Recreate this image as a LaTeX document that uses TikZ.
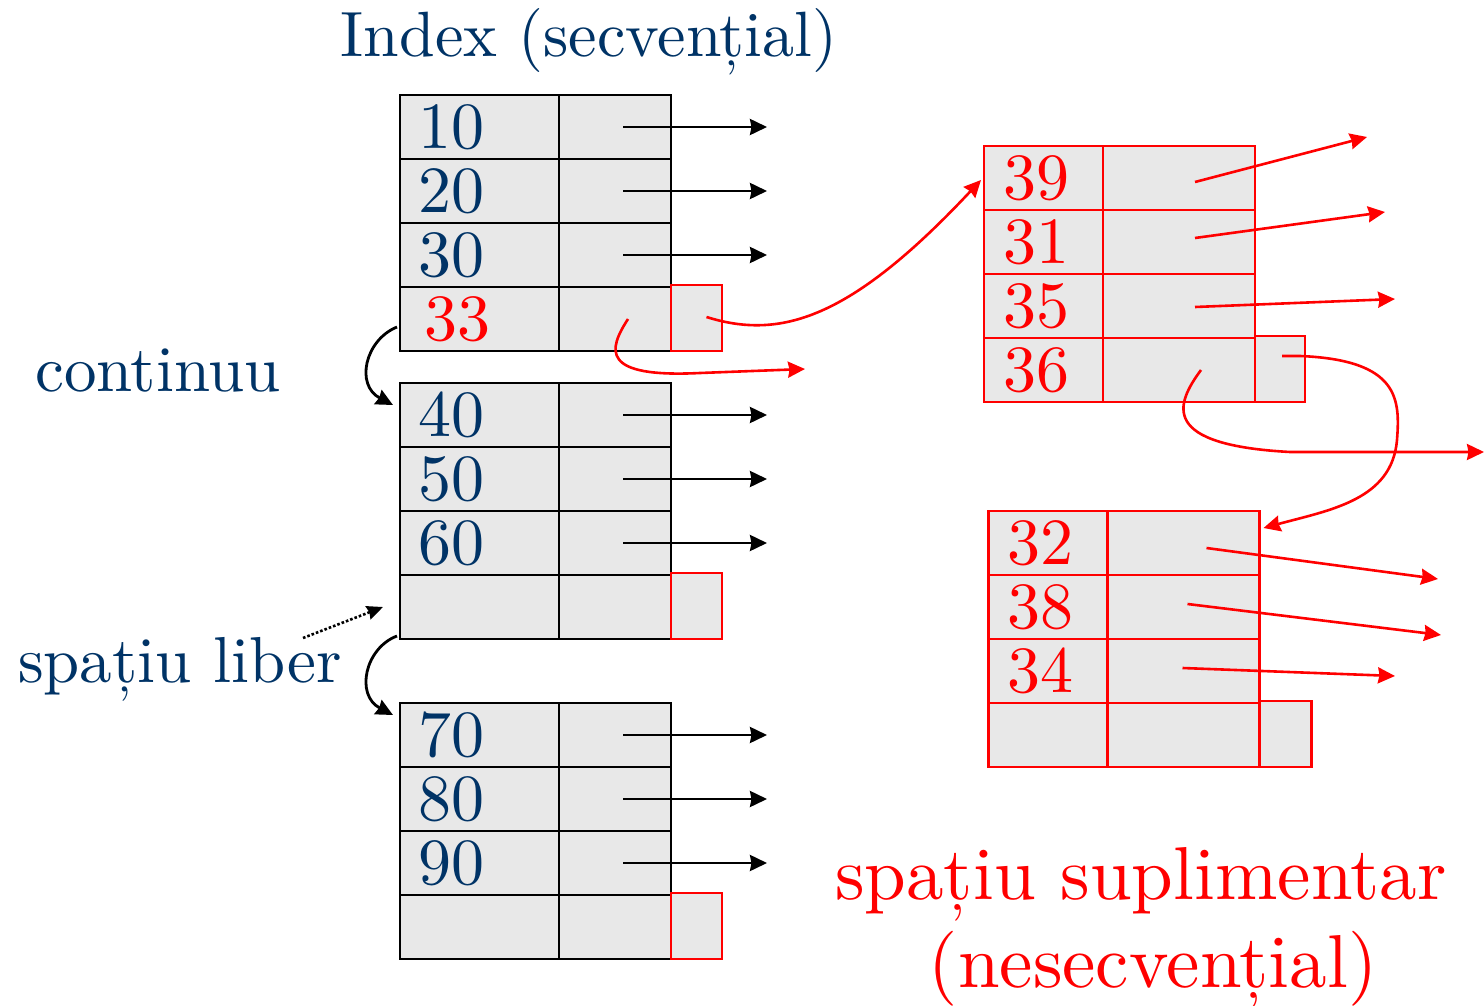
\documentclass[tikz,border=0pt]{standalone}
\usepackage{fontspec}
\setmainfont{lmroman10-regular.otf}
\usetikzlibrary{%
	positioning,
	arrows.meta
}
\definecolor{idxblue}{RGB}{0,51,102}
\definecolor{cellgray}{RGB}{232,232,232}
\newcommand{\keyfont}{\fontsize{66}{70}\selectfont}
\newcommand{\lblfont}{\fontsize{65}{70}\selectfont}
\newcommand{\bigfont}{\fontsize{75}{88}\selectfont}

\begin{document}
\begin{tikzpicture}[x=1pt,y=-1pt,
		KCell/.style={draw,fill=cellgray,line width=2.4pt,minimum height=64pt,text width=123pt,inner xsep=18pt,inner ysep=0pt,outer sep=0pt,align=left,font=\keyfont,text=idxblue},
		PCell/.style={draw,fill=cellgray,line width=2.4pt,minimum width=112pt,minimum height=64pt,inner sep=0pt,outer sep=0pt},
		OCell/.style={draw=red,fill=cellgray,line width=2.2pt,minimum width=51pt,minimum height=66pt,inner sep=0pt,outer sep=0pt},
		RKCell/.style={KCell,draw=red,line width=2.2pt,text=red,text width=81pt,inner xsep=19pt},
		RPCell/.style={PCell,draw=red,line width=2.2pt,minimum width=152pt},
		ptr/.style={line width=2.8pt,-{Stealth[length=17pt,width=16pt,inset=1.5pt]}},
		rptr/.style={ptr,draw=red,line width=2.6pt},
		lbl/.style={inner sep=0pt,font=\lblfont,text=idxblue}
	]
	\useasboundingbox (0,0) rectangle (1484,1006);
	
	%titles
	\node (tIdx) [lbl,font=\fontsize{64}{70}\selectfont,anchor=base] at (589,57) {Index (secvențial)};
	\node (tCont) [lbl,anchor=base west] at (35,391) {continuu};
	\node (tFree) [lbl,anchor=base west] at (18,682) {spațiu liber};
	\node (tExtra1) [lbl,font=\bigfont,text=red,anchor=base] at (1141,899) {spațiu suplimentar};
	\node (tExtra2) [lbl,font=\bigfont,text=red,anchor=base] at (1153,987) {(nesecvențial)};
	
	%block 1
	\node (k10) [KCell] at (479.5,127) {10};
	\node (k20) [KCell,below=0pt of k10] {20};
	\node (k30) [KCell,below=0pt of k20] {30};
	\node (k33) [KCell,below=0pt of k30,text=red,inner xsep=24pt,text width=111pt] {33};
	\node (p10) [PCell,right=0pt of k10] {};
	\node (p20) [PCell,right=0pt of k20] {};
	\node (p30) [PCell,right=0pt of k30] {};
	\node (p33) [PCell,right=0pt of k33] {};
	\node (o33) [OCell,right=0pt of p33.south east,anchor=south west] {};
	
	%block 2
	\node (k40) [KCell,below=32pt of k33] {40};
	\node (k50) [KCell,below=0pt of k40] {50};
	\node (k60) [KCell,below=0pt of k50] {60};
	\node (kb2) [KCell,below=0pt of k60] {};
	\node (p40) [PCell,right=0pt of k40] {};
	\node (p50) [PCell,right=0pt of k50] {};
	\node (p60) [PCell,right=0pt of k60] {};
	\node (pb2) [PCell,right=0pt of kb2] {};
	\node (ob2) [OCell,right=0pt of pb2.south east,anchor=south west] {};
	
	%block 3
	\node (k70) [KCell,below=64pt of kb2] {70};
	\node (k80) [KCell,below=0pt of k70] {80};
	\node (k90) [KCell,below=0pt of k80] {90};
	\node (kb3) [KCell,below=0pt of k90] {};
	\node (p70) [PCell,right=0pt of k70] {};
	\node (p80) [PCell,right=0pt of k80] {};
	\node (p90) [PCell,right=0pt of k90] {};
	\node (pb3) [PCell,right=0pt of kb3] {};
	\node (ob3) [OCell,right=0pt of pb3.south east,anchor=south west] {};
	
	%overflow block A
	\node (k39) [RKCell] at (1043.5,178) {39};
	\node (k31) [RKCell,below=0pt of k39] {31};
	\node (k35) [RKCell,below=0pt of k31] {35};
	\node (k36) [RKCell,below=0pt of k35] {36};
	\node (p39) [RPCell,right=0pt of k39] {};
	\node (p31) [RPCell,right=0pt of k31] {};
	\node (p35) [RPCell,right=0pt of k35] {};
	\node (p36) [RPCell,right=0pt of k36] {};
	\node (o36) [OCell,right=0pt of p36.south east,anchor=south west,minimum width=50pt] {};
	
	%overflow block B
	\node (k32) [RKCell] at (1048,543) {32};
	\node (k38) [RKCell,below=0pt of k32] {38};
	\node (k34) [RKCell,below=0pt of k38] {34};
	\node (kbB) [RKCell,below=0pt of k34] {};
	\node (p32) [RPCell,right=0pt of k32] {};
	\node (p38) [RPCell,right=0pt of k38] {};
	\node (p34) [RPCell,right=0pt of k34] {};
	\node (pbB) [RPCell,right=0pt of kbB] {};
	\node (obB) [OCell,right=0pt of pbB.south east,anchor=south west,minimum width=52pt] {};
	
	%free ends
	\coordinate (e10) at (767,127);
	\coordinate (e20) at (767,191);
	\coordinate (e30) at (767,255);
	\coordinate (e40) at (767,415);
	\coordinate (e50) at (767,479);
	\coordinate (e60) at (767,543);
	\coordinate (e70) at (767,735);
	\coordinate (e80) at (767,799);
	\coordinate (e90) at (767,863);
	\coordinate (e33) at (805,369);
	\coordinate (e39) at (1367,137);
	\coordinate (e31) at (1385,212);
	\coordinate (e35) at (1395,299);
	\coordinate (e36) at (1484,452);
	\coordinate (e32) at (1438,579);
	\coordinate (e38) at (1441,635);
	\coordinate (e34) at (1395,676);
	\coordinate (dFree) at (303,638);
	
	\draw [ptr] ([xshift=8pt]p10.center) -- (e10);
	\draw [ptr] ([xshift=8pt]p20.center) -- (e20);
	\draw [ptr] ([xshift=8pt]p30.center) -- (e30);
	\draw [ptr] ([xshift=8pt]p40.center) -- (e40);
	\draw [ptr] ([xshift=8pt]p50.center) -- (e50);
	\draw [ptr] ([xshift=8pt]p60.center) -- (e60);
	\draw [ptr] ([xshift=8pt]p70.center) -- (e70);
	\draw [ptr] ([xshift=8pt]p80.center) -- (e80);
	\draw [ptr] ([xshift=8pt]p90.center) -- (e90);
	
	\draw [ptr] ([xshift=-3pt,yshift=-8pt]k33.west) .. controls (365,340) and (355,385) .. ([xshift=-7pt,yshift=10pt]k40.west);
	\draw [ptr] ([xshift=-3pt,yshift=3pt]kb2.south west) .. controls (365,648) and (355,695) .. ([xshift=-7pt,yshift=20pt]k70.west);
	\draw [ptr,line width=2.6pt,dotted,-{Stealth[length=16pt,width=14pt,inset=1.5pt]}] (dFree) -- ([xshift=-17pt]kb2.west);
	
	\draw [rptr] ([xshift=13pt]p33.center) .. controls (608,350) and (600,378) .. (700,373) -- (e33);
	\draw [rptr] ([xshift=10pt,yshift=1pt]o33.center) .. controls (780,340) and (850,320) .. ([xshift=-3pt,yshift=-2pt]k39.west);
	
	\draw [rptr] ([xshift=16pt,yshift=-4pt]p39.center) -- (e39);
	\draw [rptr] ([xshift=16pt,yshift=4pt]p31.center) -- (e31);
	\draw [rptr] ([xshift=16pt,yshift=-1pt]p35.center) -- (e35);
	\draw [rptr] ([xshift=22pt]p36.center) .. controls (1175,405) and (1160,445) .. (1290,452) -- (e36);
	\draw [rptr] ([xshift=2pt,yshift=13pt]o36.center) -- (1300,356) .. controls (1400,360) and (1400,400) .. (1397,440) .. controls (1392,500) and (1330,510) .. ([xshift=4pt,yshift=-17pt]p32.north east);
	
	\draw [rptr] ([xshift=23pt,yshift=-5pt]p32.center) -- (e32);
	\draw [rptr] ([xshift=4pt,yshift=3pt]p38.center) -- (e38);
	\draw [rptr] ([xshift=-1pt,yshift=3pt]p34.center) -- (e34);
	
\end{tikzpicture}
\end{document}
